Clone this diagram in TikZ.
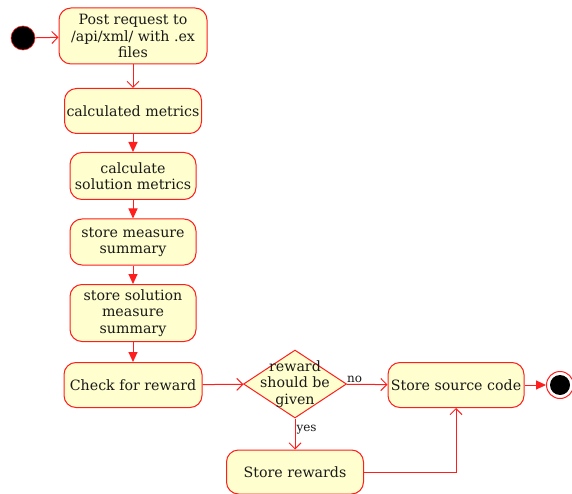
\documentclass[tikz,border=0pt]{standalone}
\usepackage{fontspec}
\setmainfont{DejaVu Serif}
\usetikzlibrary{arrows.meta, shapes.geometric}
\definecolor{cred}{HTML}{FF1E1E}
\definecolor{cfill}{HTML}{FEFECE}
\definecolor{cink}{HTML}{1A1A1A}

\begin{document}
\begin{tikzpicture}[
  x=1pt, y=-1pt,
  font=\fontsize{14.2}{16.2}\selectfont,
  act/.style={draw=cred, fill=cfill, line width=1pt, text=cink, align=center,
              inner sep=0pt, rounded corners=12pt},
  choice/.style={diamond, draw=cred, fill=cfill, line width=1pt, inner sep=0pt,
                 minimum width=103pt, minimum height=68pt},
  startdot/.style={circle, draw=cred, fill=black, line width=0.6pt, minimum size=24pt, inner sep=0pt},
  enddot/.style={circle, draw=cred, fill=white, line width=1pt, minimum size=27pt, inner sep=0pt,
                 path picture={\fill[black] (path picture bounding box.center) circle (10pt);}},
  guard/.style={text=cink, font=\fontsize{12}{14}\selectfont, inner sep=1pt},
  openflow/.style={-{Straight Barb[length=6pt,width=12pt]}, draw=cred, line width=1pt},
  flow/.style={-{Triangle[length=10pt,width=9pt]}, draw=cred, line width=1pt}
]
\useasboundingbox (0,0) rectangle (572,494);
\node[startdot] (start) at (23,38) {};
\node[act, minimum width=148pt, minimum height=56pt] (post)    at (133,36)  {Post request to\\/api/xml/ with .ex\\files};
\node[act, minimum width=137pt, minimum height=45pt] (calc)    at (133,111) {calculated metrics};
\node[act, minimum width=126pt, minimum height=47pt] (solcalc) at (133,176) {calculate\\solution metrics};
\node[act, minimum width=126pt, minimum height=46pt] (store)   at (133,242) {store measure\\summary};
\node[act, minimum width=126pt, minimum height=57pt] (solstore) at (133,313) {store solution\\measure\\summary};
\node[act, minimum width=138pt, minimum height=45pt] (check)   at (133,385) {Check for reward};
\node[choice, label={[text=cink, align=center]center:reward\\should be\\given}] (given) at (295,384) {};
\node[act, minimum width=136pt, minimum height=45pt] (source)  at (456,385) {Store source code};
\node[enddot] (stop) at (560,385) {};
\node[act, minimum width=137pt, minimum height=44pt] (rewards) at (295,472) {Store rewards};
\draw[openflow] (start) -- (post);
\draw[openflow] (post) -- (calc);
\draw[flow] (calc) -- (solcalc);
\draw[flow] (solcalc) -- (store);
\draw[flow] (store) -- (solstore);
\draw[flow] (solstore) -- (check);
\draw[openflow] (check) -- (given);
\draw[openflow] (given) -- node[guard, pos=0.2, above]{no} (source);
\draw[openflow] (given) -- node[guard, pos=0.35, right]{yes} (rewards);
\draw[flow] (source) -- (stop);
\draw[openflow] (rewards) -| (source);
\end{tikzpicture}
\end{document}
